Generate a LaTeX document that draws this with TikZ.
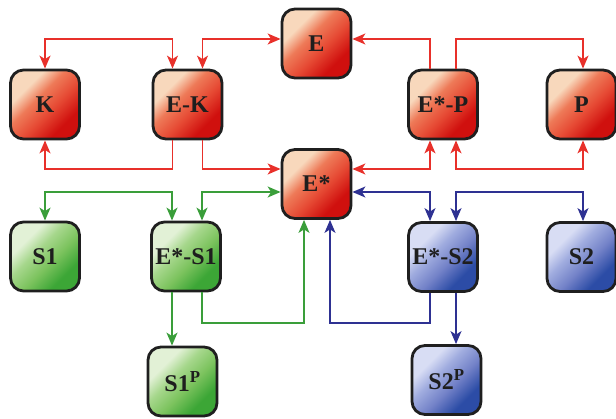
\documentclass[tikz,border=0pt]{standalone}
\usepackage{fontspec}
\setmainfont{Liberation Serif}
\usetikzlibrary{arrows.meta}
\definecolor{rL}{HTML}{F8D8BC}
\definecolor{rM2}{HTML}{EE7A58}
\definecolor{rM}{HTML}{E64A34}
\definecolor{rD}{HTML}{D0100E}
\definecolor{gL}{HTML}{E2F1D6}
\definecolor{gM2}{HTML}{A6D78C}
\definecolor{gM}{HTML}{7CC35E}
\definecolor{gD}{HTML}{3CA636}
\definecolor{bL}{HTML}{D8DDF4}
\definecolor{bM2}{HTML}{A0ACDF}
\definecolor{bM}{HTML}{7382C8}
\definecolor{bD}{HTML}{2C4CA6}
\definecolor{rLine}{HTML}{E8302A}
\definecolor{gLine}{HTML}{3A9E3A}
\definecolor{bLine}{HTML}{2E3192}
\definecolor{txt}{HTML}{1E1E1E}
\pgfdeclareverticalshading{redsh}{100bp}{color(0bp)=(rD); color(30bp)=(rD); color(44bp)=(rM); color(57bp)=(rM2); color(68bp)=(rL); color(100bp)=(rL)}
\pgfdeclareverticalshading{greensh}{100bp}{color(0bp)=(gD); color(30bp)=(gD); color(44bp)=(gM); color(57bp)=(gM2); color(68bp)=(gL); color(100bp)=(gL)}
\pgfdeclareverticalshading{bluesh}{100bp}{color(0bp)=(bD); color(30bp)=(bD); color(44bp)=(bM); color(57bp)=(bM2); color(68bp)=(bL); color(100bp)=(bL)}
\begin{document}
\begin{tikzpicture}[x=1pt,y=-1pt,
  box/.style={draw=black!88, line width=2.8pt, rounded corners=13pt,
    minimum width=69pt, minimum height=69pt, inner sep=0pt,
    font=\bfseries\fontsize{24}{26}\selectfont, text=txt},
  redbox/.style={box, shade, shading=redsh, shading angle=45},
  greenbox/.style={box, shade, shading=greensh, shading angle=45},
  bluebox/.style={box, shade, shading=bluesh, shading angle=45},
  tip/.tip={Stealth[length=13pt,width=11pt,inset=3.5pt]},
  con/.style={line width=1.5pt},
  one/.style={con, -tip},
  two/.style={con, tip-tip},
  rc/.style={color=rLine},
  gc/.style={color=gLine},
  bc/.style={color=bLine},
]
\useasboundingbox (0,0) rectangle (616,419);
% lanes
\coordinate (laneA) at (0,39);
\coordinate (laneB) at (0,169);
\coordinate (laneC) at (0,192);
\coordinate (laneD) at (0,323);

% nodes
\node[redbox] (K) at (45,104.5) {K};
\node[redbox] (EK) at (187.5,104.5) {E-K};
\node[redbox] (E) at (316.5,43.5) {E};
\node[redbox] (Es) at (316.5,184) {E*};
\node[redbox] (EP) at (443,104.5) {E*-P};
\node[redbox] (P) at (581.5,104.5) {P};
\node[greenbox] (S1) at (45,256.5) {S1};
\node[greenbox] (ES1) at (186,256.5) {E*-S1};
\node[greenbox] (S1P) at (182.5,381.5) {S1\textsuperscript{P}};
\node[bluebox] (ES2) at (443,257) {E*-S2};
\node[bluebox] (S2) at (581.5,257) {S2};
\node[bluebox] (S2P) at (446.5,380) {S2\textsuperscript{P}};

% red connectors
\draw[two, rc] (K.north) -- (K.north |- laneA) -| ([xshift=-15pt]EK.north);
\draw[two, rc] ([xshift=15pt]EK.north) |- (E.west |- laneA);
\draw[one, rc] ([xshift=-15pt]EK.south) |- (K.south |- laneB) -- (K.south);
\draw[one, rc] ([xshift=15pt]EK.south) |- (Es.west |- laneB);
\draw[one, rc] ([xshift=-13pt]EP.north) |- (E.east |- laneA);
\draw[one, rc] ([xshift=13pt]EP.north) |- ([xshift=1.5pt]P.north |- laneA) -- ([xshift=1.5pt]P.north);
\draw[two, rc] (Es.east |- laneB) -| ([xshift=-13pt]EP.south);
\draw[two, rc] ([xshift=1.5pt]P.south) -- ([xshift=1.5pt]P.south |- laneB) -| ([xshift=13pt]EP.south);

% green connectors
\draw[two, gc] (S1.north) -- (S1.north |- laneC) -| ([xshift=-14pt]ES1.north);
\draw[two, gc] ([xshift=16pt]ES1.north) |- (Es.west |- laneC);
\draw[one, gc] ([xshift=-14pt]ES1.south) -- ([xshift=-14pt]ES1.south |- S1P.north);
\draw[one, gc] ([xshift=16pt]ES1.south) -- ([xshift=16pt]ES1.south |- laneD) -| ([xshift=-12.5pt]Es.south);

% blue connectors
\draw[two, bc] (Es.east |- laneC) -| ([xshift=-13pt]ES2.north);
\draw[two, bc] ([xshift=1.5pt]S2.north) -- ([xshift=1.5pt]S2.north |- laneC) -| ([xshift=13pt]ES2.north);
\draw[one, bc] ([xshift=-13pt]ES2.south) -- ([xshift=-13pt]ES2.south |- laneD) -| ([xshift=13.5pt]Es.south);
\draw[one, bc] ([xshift=13pt]ES2.south) -- ([xshift=13pt]ES2.south |- S2P.north);
\end{tikzpicture}
\end{document}
